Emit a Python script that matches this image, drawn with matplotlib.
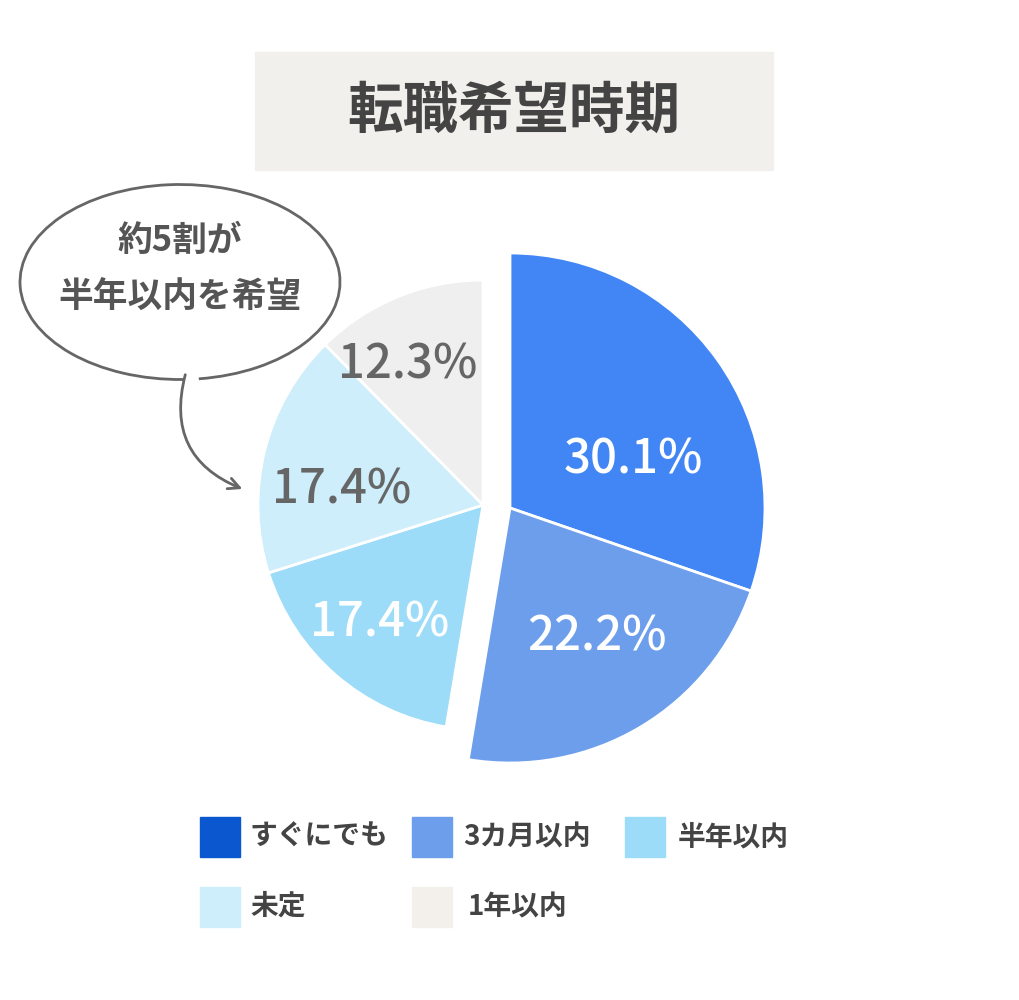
import matplotlib.pyplot as plt
from matplotlib.patches import Rectangle, Arc, FancyArrowPatch

plt.rcParams['font.family'] = 'Noto Sans CJK JP'

# データ
categories = ['すぐにでも', '3カ月以内', '半年以内', '未定', '1年以内']
values = [30.1, 22.2, 17.4, 17.4, 12.3]
slice_colors = ['#4286f5', '#6d9eeb', '#9ddcf8', '#cdeefa', '#efefef']
legend_colors = ['#0b57d0', '#6d9eeb', '#9ddcf8', '#cdeefa', '#f3f0ec']
label_colors = ['white', 'white', 'white', '#666666', '#666666']

H = 1000
fig = plt.figure(figsize=(10.2, 10), dpi=100)
ax = fig.add_axes([0, 0, 1, 1])

# タイトル
ax.add_patch(Rectangle((255, H - 170), 518, 118, color='#f2f0ec', zorder=1))
ax.text(514, H - 112, '転職希望時期', ha='center', va='center', fontsize=40,
        fontweight='bold', color='#444444')

# 円グラフ（右の2つは切り出し）
big_w, _ = ax.pie(values, colors=slice_colors, startangle=90, counterclock=False,
                  center=(510, H - 508), radius=255,
                  wedgeprops=dict(edgecolor='white', linewidth=2))
small_w, _ = ax.pie(values, colors=slice_colors, startangle=90, counterclock=False,
                    center=(483, H - 505), radius=225,
                    wedgeprops=dict(edgecolor='white', linewidth=2))
for i in range(len(values)):
    if i < 2:
        small_w[i].set_visible(False)
    else:
        big_w[i].set_visible(False)

pos_label = [(633, 460), (597, 637), (380, 623), (342, 490), (408, 365)]
for i, v in enumerate(values):
    x, y = pos_label[i]
    ax.text(x, H - y, f'{v}%', ha='center', va='center', fontsize=34,
            fontweight='medium', color=label_colors[i])

ax.set_xlim(0, 1020)
ax.set_ylim(0, H)
ax.set_aspect('equal')
ax.axis('off')

# 吹き出し
ax.add_patch(Arc((180, H - 282), 320, 195, theta1=281, theta2=272 + 360,
                 color='#666666', linewidth=2))
ax.add_patch(FancyArrowPatch((186, H - 372), (245, H - 490),
                             connectionstyle='arc3,rad=0.45', arrowstyle='->',
                             mutation_scale=20, color='#666666', linewidth=2))
ax.text(180, H - 240, '約5割が', ha='center', va='center', fontsize=25,
        fontweight='bold', color='#555555')
ax.text(180, H - 297, '半年以内を希望', ha='center', va='center', fontsize=25,
        fontweight='bold', color='#555555')

# 凡例
leg_pos = [(200, 817, 250), (412, 817, 463), (625, 817, 678),
           (200, 887, 250), (412, 887, 468)]
for i, name in enumerate(categories):
    bx, by, tx = leg_pos[i]
    ax.add_patch(Rectangle((bx, H - by - 40), 40, 40, color=legend_colors[i]))
    ax.text(tx, H - by - 20, name, ha='left', va='center', fontsize=20,
            fontweight='bold', color='#444444')

fig.savefig('out.png', dpi=100)
